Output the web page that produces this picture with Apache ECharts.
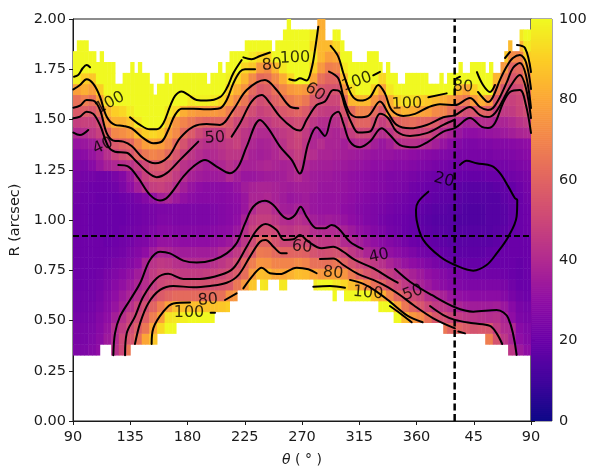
<!DOCTYPE html>
<html><head><meta charset="utf-8">
<style>html,body{margin:0;padding:0;background:#fff}#c{width:592px;height:466px}</style>
<script src="https://cdn.jsdelivr.net/npm/echarts@6/dist/echarts.min.js"></script>
</head><body><div id="c"></div>
<script>
const xTickLabels = ['90','135','180','225','270','315','360','45','90'];
const yTickLabels = ['0.00','0.25','0.50','0.75','1.00','1.25','1.50','1.75','2.00'];
const plasmaStops = ['#0d0887','#41049d','#6a00a8','#8f0da4','#b12a90','#cc4778','#e16462','#f2844b','#fca636','#fcce25','#f0f921'];
const thetaStart = 90, thetaMaskStep = 3, thetaStep = 6, rStart = 0.328, rStep = 0.054;
const crossTheta = 390, crossR = 0.92;
const _ = null;
const gap = n => Array(n).fill(_);

const topRow = [
28,29,29,29,28,28,27,28,27,27,
27,25,25,26,26,27,26,27,26,26,
25,24,25,25,26,25,26,26,26,26,
26,26,26,26,26,25,26,26,27,26,
27,28,28,28,28,29,29,29,29,29,
29,29,28,29,29,30,31,30,30,30,
30,30,30,30,31,31,29,29,30,30,
29,28,28,27,27,27,27,28,28,28,
27,26,27,26,26,25,25,26,26,26,
26,26,26,25,25,25,26,25,26,26,
26,27,26,26,27,27,27,27,26,27,
26,26,27,28,29,28,28,30,30,30];
const bottomRow = [
0,0,0,0,0,0,0,1,1,1,
0,0,0,0,0,1,1,1,1,1,
1,1,2,2,2,2,2,3,3,3,
3,3,3,3,3,3,3,4,4,4,
4,5,5,6,6,6,6,6,7,6,
6,7,7,7,6,6,7,7,7,7,
7,7,7,6,6,6,6,6,5,6,
6,5,5,5,5,5,5,5,5,5,
4,4,4,4,3,3,3,3,3,3,
3,3,3,3,3,3,3,2,2,2,
2,2,2,2,2,2,2,2,1,1,
1,1,1,1,0,0,0,0,0,0];

const row00 = [25,25,27,30,_,42,50,66,...gap(49),44,34,30];
const row01 = [24,24,26,29,34,40,50,55,64,80,88,...gap(43),68,54,44,38,30,27];
const row02 = [24,24,25,28,32,41,46,52,58,66,80,92,100,100,...gap(34),66,60,60,57,54,55,55,46,40,39,28,26];
const row03 = [23,23,24,27,30,36,42,48,52,58,68,78,95,96,98,100,100,100,100,...gap(23),100,85,76,72,64,56,53,49,46,44,43,42,41,42,38,30,25,24];
const row04 = [22,22,23,25,28,32,37,42,48,53,60,68,78,86,86,86,86,87,87,88,90,...gap(19),100,100,80,66,60,55,50,46,44,41,38,36,35,35,35,36,33,28,24,23];
const row05 = [22,22,22,24,27,30,34,38,42,47,52,57,60,62,62,62,62,62,63,64,74,76,...gap(12),100,100,100,100,100,88,82,70,61,57,51,48,42,40,37,33,31,30,29,29,29,29,27,24,22,21];
const row06 = [21,21,22,23,25,28,31,34,38,41,46,50,52,53,53,53,53,53,54,55,57,66,76,88,96,95,95,96,...gap(3),97,100,100,96,92,86,80,72,64,60,54,50,45,41,37,34,31,29,27,26,25,25,25,25,25,24,22,20,20];
const row07 = [21,21,21,22,24,26,28,31,35,40,46,49,49,47,46,46,46,47,48,50,53,57,63,77,86,85,80,80,83,86,85,80,76,78,78,75,67,60,55,52,49,46,43,40,37,34,31,29,27,25,24,23,22,22,22,22,21,20,19,20];
const row08 = [21,21,21,21,22,24,25,27,30,38,43,45,44,42,41,40,40,40,42,44,47,52,60,68,75,74,70,70,70,72,70,64,64,64,66,60,54,50,47,45,42,38,35,32,30,28,26,24,22,20,19,19,19,19,20,20,20,20,19,20];
const row09 = [21,21,21,21,21,22,23,25,27,30,35,39,38,36,35,35,35,35,36,39,41,45,51,57,67,66,62,60,60,60,59,54,52,53,54,50,45,42,38,36,33,31,29,27,25,23,22,20,19,18,17,17,17,17,18,19,20,20,20,20];
const row10 = [21,21,21,21,20,21,22,23,25,26,29,32,32,31,30,30,30,30,31,32,34,38,44,51,60,60,54,50,50,52,52,47,45,45,46,40,39,36,33,31,29,27,25,23,21,20,19,18,17,16,16,16,16,16,16,17,19,20,20,20];
const row11 = [21,21,20,20,20,20,21,22,23,24,26,28,28,27,27,27,27,27,28,29,30,33,42,48,52,52,50,45,44,46,45,41,40,40,40,37,34,31,29,27,25,23,22,20,19,18,17,16,16,15,15,15,15,15,15,16,17,19,20,21];
const row12 = [21,21,20,20,20,20,20,21,22,23,24,26,26,25,25,25,25,25,26,27,28,30,37,45,47,47,44,41,40,42,40,36,34,35,34,32,30,28,26,25,23,22,21,20,19,17,16,15,15,15,14,14,14,14,15,15,16,18,20,21];
const row13 = [21,21,20,20,20,20,20,21,22,23,24,25,25,25,25,25,25,25,26,27,28,29,33,40,44,44,40,36,35,37,36,33,32,32,32,30,29,27,26,25,24,23,22,21,20,18,17,16,16,15,15,14,14,14,15,15,16,18,20,21];
const row14 = [22,21,21,20,20,20,21,22,24,27,31,36,38,34,31,29,28,28,28,28,29,30,33,38,38,39,37,35,33,34,35,33,32,32,32,31,30,28,27,26,25,24,23,22,21,20,19,18,17,17,16,15,15,15,15,15,17,19,20,22];
const row15 = [23,22,21,21,21,22,25,30,36,42,47,48,46,41,36,32,30,29,29,29,30,32,35,37,38,38,37,36,35,36,36,35,33,33,33,32,31,30,29,28,27,26,25,24,22,21,20,19,18,17,17,16,16,16,16,17,18,19,21,23];
const row16 = [24,23,23,22,22,24,27,33,41,48,52,52,50,46,41,37,35,34,34,35,39,36,33,33,34,35,35,36,38,40,37,35,34,34,33,32,31,30,29,28,27,26,26,25,24,23,22,21,20,20,20,19,19,19,20,20,21,22,23,24];
const row17 = [26,25,28,33,37,39,41,43,47,51,56,57,54,49,43,41,38,36,37,39,42,40,37,37,38,39,38,37,38,44,39,37,36,36,35,34,33,32,31,30,30,29,28,28,27,26,25,24,23,22,22,22,22,22,22,23,23,24,25,26];
const row18 = [28,29,32,36,42,48,52,55,61,66,70,68,62,55,48,44,41,39,40,42,44,44,41,37,36,37,39,42,44,47,44,41,38,38,37,36,35,34,33,32,32,32,31,31,30,29,28,27,26,25,24,24,24,24,24,25,25,26,27,28];
const row19 = [32,33,35,40,47,56,59,61,70,78,80,78,72,62,54,48,44,42,42,44,46,48,43,39,37,38,40,43,47,49,44,39,41,38,38,36,39,41,40,36,33,36,41,42,42,41,39,36,32,29,27,25,25,26,26,27,27,28,29,30];
const row20 = [40,41,44,48,60,71,73,76,85,90,92,90,78,72,62,57,51,47,46,47,52,48,44,42,40,40,43,45,47,50,46,39,37,39,38,41,47,50,50,44,41,44,49,51,52,50,50,46,40,37,33,30,30,31,32,33,34,36,38,39];
const row21 = [47,48,48,52,75,83,83,87,96,100,100,100,88,75,70,66,62,60,60,60,56,50,49,46,44,45,48,49,50,52,50,44,41,41,42,48,56,60,60,53,47,51,60,62,63,61,60,57,50,46,40,36,38,41,41,38,38,40,43,45];
const row22 = [57,58,56,62,84,90,92,97,100,100,100,100,96,92,82,78,76,76,76,74,68,60,58,52,48,50,53,56,58,60,57,50,47,46,46,55,62,70,70,62,55,78,80,84,82,79,78,72,70,64,56,52,55,60,58,48,45,46,49,52];
const row23 = [64,68,64,78,95,100,100,100,100,100,100,100,100,100,100,96,98,98,96,92,80,72,66,57,52,54,59,63,67,70,66,56,52,50,50,62,84,85,85,75,67,82,92,95,94,90,88,85,82,78,70,66,76,82,76,56,48,48,50,56];
const row24 = [78,82,78,90,100,100,100,100,100,100,100,100,100,100,100,100,100,100,100,100,90,82,75,62,56,58,64,71,76,78,76,64,56,54,54,74,94,100,100,90,78,96,100,100,100,100,100,100,100,100,85,80,90,98,100,68,54,50,52,62];
const row25 = [98,90,88,100,100,100,100,100,100,100,100,100,100,100,100,100,100,100,100,100,98,92,84,72,62,64,72,82,92,100,100,80,64,60,60,85,100,100,100,100,92,100,100,100,100,100,100,100,100,100,100,100,100,100,100,84,66,55,58,72];
const row26 = [100,100,100,100,100,100,100,100,100,100,100,100,100,100,100,100,100,100,100,100,100,100,92,88,76,72,84,96,100,100,100,90,76,68,70,96,100,100,100,100,100,100,100,100,100,100,100,100,100,100,100,100,100,100,100,96,76,60,62,80];
const row27 = [100,100,100,100,100,100,100,100,100,100,100,100,100,100,100,100,100,100,100,100,100,100,100,96,92,90,100,100,100,100,100,96,84,78,80,100,100,100,100,100,100,100,100,100,100,100,100,100,100,100,100,100,100,100,100,100,88,72,70,90];
const row28 = [100,100,100,100,100,100,100,100,100,100,100,100,100,100,100,100,100,100,100,100,100,100,100,100,100,100,100,100,100,100,100,92,85,85,92,100,100,100,100,100,100,100,100,100,100,100,100,100,100,100,100,100,100,100,100,100,100,85,84,96];
const row29 = [100,100,100,100,100,100,100,100,100,100,100,100,100,100,100,100,100,100,100,100,100,100,100,100,100,100,100,100,100,100,100,96,84,90,100,100,100,100,100,100,100,100,100,100,100,100,100,100,100,100,100,100,100,100,100,100,100,100,96,100];
const row30 = [100,100,100,100,100,100,100,100,100,100,100,100,100,100,100,100,100,100,100,100,100,100,100,100,100,100,100,100,100,100,100,85,82,95,100,100,100,100,100,100,100,100,100,100,100,100,100,100,100,100,100,100,100,100,100,100,100,100,100,100];
const rows = [row00,row01,row02,row03,row04,row05,row06,row07,row08,row09,row10,row11,row12,row13,row14,row15,row16,row17,row18,row19,row20,row21,row22,row23,row24,row25,row26,row27,row28,row29,row30];

const contour20 = [[[369.3,1.141],[361.4,1.091],[359.6,1.05],[360.1,1.0],[365.3,.901],[378.4,.818],[390.2,.776],[404.6,.748],[415.1,.776],[423,.834],[432.2,.917],[438.7,1.017],[439.2,1.1],[437.4,1.108],[432.2,1.166],[425.6,1.233],[419,1.269],[407.3,1.282],[399.4,1.295],[394.2,1.274]]];
const contour40 = [
[[90.3,1.435],[95.5,1.423],[102,1.448]],
[[125.6,1.274],[133.5,1.266],[141.4,1.208],[150.5,1.125],[158.4,1.097],[164.9,1.117],[176.7,1.216],[184.6,1.266],[193.8,1.299],[202.9,1.266],[213.4,1.233],[220,1.266],[226.5,1.365],[237,1.498],[243.5,1.456],[252.7,1.365],[261.9,1.299],[268.2,1.231],[275,1.382],[281.5,1.461],[288,1.418],[293.3,1.514],[298.5,1.539],[302.5,1.481],[307.7,1.39],[315.6,1.362],[323.4,1.39],[332.6,1.456],[339.1,1.423],[347,1.373],[358.8,1.362],[369.3,1.39],[381.1,1.44],[390.3,1.458],[402,1.507],[411.4,1.463],[416.2,1.458],[421.7,1.483],[428,1.582],[433.5,1.637],[441.3,1.647],[446,1.572],[450,1.433]],
[[121.7,.327],[123,.436],[126.9,.519],[134.8,.602],[142.7,.685],[150.5,.801],[158.4,.842],[166.2,.834],[176.7,.798],[187.2,.788],[200.3,.801],[210.8,.834],[218.6,.884],[225.2,.983],[231.7,1.066],[240.9,1.096],[247.5,1.075],[254,1.025],[259.3,1.005],[264.5,1.025],[268.9,1.066],[273.6,1.017],[281.5,.959],[288,.959],[293.3,.975],[298.5,.959],[307.7,.892],[317.7,.856]],
[[343.1,.756],[354.9,.693],[371.9,.627],[390.2,.566],[404.6,.544],[423,.552],[432.2,.511],[438.7,.329]]];
const contour50 = [
[[90.3,1.506],[95.5,1.514],[100.7,1.539],[106,1.528],[111.2,1.473],[117.8,1.365],[123,1.34],[132.2,1.335],[138.7,1.299],[147.9,1.241],[155.8,1.213],[163.6,1.233],[174.1,1.299],[188.5,1.39]],
[[214.7,1.415],[221.3,1.481],[230.4,1.589],[238.3,1.622],[244.8,1.581],[252.7,1.514],[263.2,1.456],[268.4,1.445],[273.6,1.498],[281.5,1.572],[288,1.589],[294.6,1.647],[299.8,1.639],[303.8,1.564],[309,1.481],[314.3,1.435],[323.4,1.44],[331.3,1.528],[337.8,1.506],[344.4,1.44],[354.9,1.418],[368,1.432],[381.1,1.473],[390.2,1.5]],
[[130.9,.327],[132.2,.436],[138.7,.519],[145.3,.619],[155.8,.71],[164.9,.732],[176.7,.707],[189.8,.707],[205.5,.726],[216,.76],[226.5,.867],[234.4,.95],[241.4,.98],[250.1,.95],[255.8,.901],[263.2,.904],[268.4,.925],[275,.892],[285.4,.859],[294.6,.867],[302.5,.842],[311.6,.801],[326,.76],[337.8,.715],[345.2,.688]],
[[370.6,.572],[381.1,.527],[390.2,.503],[404.6,.486],[417.7,.473],[423,.436],[427.4,.383]]];
const contour60 = [
[[90.3,1.559],[95.5,1.569],[100.7,1.597],[106,1.594],[111.2,1.548],[116.5,1.432],[121.7,1.395],[129.6,1.39],[136.1,1.368],[145.3,1.307],[154.5,1.282],[165,1.315],[174.1,1.407],[184.6,1.465],[195.1,1.478],[205.5,1.473],[216,1.548],[226.5,1.647],[240.9,1.697],[250.1,1.647],[260.6,1.564],[267.1,1.556]],
[[291.2,1.738],[298.5,1.705],[302.5,1.614],[307.7,1.531],[314.3,1.511],[322.1,1.518],[331.3,1.589],[337.8,1.531],[344.4,1.473],[354.9,1.456],[368,1.473],[381.1,1.511],[390.3,1.522],[402,1.562],[409.9,1.522],[416.2,1.512],[421.7,1.532],[428,1.597],[433.5,1.662],[441.3,1.721],[446,1.657],[450,1.507]],
[[138.7,.383],[142.7,.486],[149.2,.586],[158.4,.652],[168.9,.672],[184.6,.665],[197.7,.672],[210.8,.688],[220,.726],[229.1,.818],[237,.892],[241.4,.901],[247.5,.867],[254,.834],[258,.834]],
[[284.1,.806],[294.6,.809],[302.5,.776],[314.3,.731],[326,.702],[337.8,.665],[347,.627],[357.5,.577],[373.2,.511],[390.2,.461]],
[[392.9,.445],[398.1,.436]]];
const contour80 = [
[[90.3,1.65],[95.5,1.672],[100.7,1.7],[106,1.677],[111.2,1.614],[116.5,1.514],[123,1.473],[129.6,1.468],[136.1,1.456],[145.3,1.407],[153.1,1.382],[159.7,1.39],[164.9,1.448],[170.2,1.523],[175.4,1.553],[184.6,1.553],[195.1,1.551],[205.5,1.556],[210.8,1.597],[216,1.68],[221.3,1.738],[225.2,1.75],[233.1,1.75]],
[[292.5,1.866],[298.5,1.813],[302.5,1.73],[309,1.622],[315.6,1.594],[323.4,1.611],[330,1.672],[335.2,1.63],[340.4,1.548],[349.6,1.518],[358.8,1.528],[369.3,1.561],[378.4,1.576],[390.3,1.572],[402,1.607],[409.9,1.562],[416.2,1.547],[420.1,1.557],[425.6,1.612],[431.1,1.687],[435.8,1.756],[441.3,1.781],[446,1.721],[450,1.557]],
[[408.3,1.637],[412.3,1.607],[416.2,1.587],[420.1,1.612],[425.6,1.697],[431.1,1.766],[435.8,1.806],[441.3,1.821],[446,1.786],[450,1.652]],
[[151.8,.383],[153.1,.461],[161,.544],[168.9,.585],[182,.589]],
[[209.5,.602],[218.6,.635]],
[[223.9,.66],[231.7,.726],[238.3,.763],[244.8,.735],[252.7,.731],[265.8,.763],[275,.755],[281.5,.735]],
[[307.7,.702],[318.2,.682],[328.7,.644],[339.1,.594],[352.2,.527],[364.8,.491]]];
const contour100 = [
[[90.8,1.713],[94.2,1.722],[97.6,1.755],[100.7,1.771],[103.4,1.76]],
[[134.8,1.511],[142.7,1.473],[150.5,1.451],[155.8,1.451],[161,1.481],[166.2,1.564],[170.2,1.617],[175.4,1.639],[180.7,1.622],[187.2,1.597],[195.1,1.594],[205.5,1.611],[210.8,1.655],[216,1.73],[222.6,1.796]],
[[223.9,1.809],[230.4,1.8],[237,1.816],[244.8,1.833]],
[[260,1.7],[264.5,1.694],[268.4,1.705],[273.6,1.694],[277.6,1.755],[280.2,1.846],[282.8,1.962]],
[[326,1.72],[331.3,1.737]],
[[369.3,1.611],[383.7,1.63]],
[[391.5,1.705],[394.2,1.713]],
[[407.5,1.736],[412.3,1.672],[417.8,1.637],[421.7,1.672]],
[[429.6,1.806],[433.5,1.836]],
[[439,1.871],[445.3,1.856],[450,1.736]],
[[278.9,.668],[292,.672],[303.8,.663]],
[[339.1,.572],[347,.536],[356.2,.491]],
[[198.2,.539],[201.6,.539]]];
const contourLabels = [
[119.1,1.582,'100',28],[113.6,1.368,'40',25],[201.6,1.408,'50',4],[246.4,1.771,'80',5],[264.5,1.806,'100',2],
[280.2,1.637,'60',-35],[313.2,1.687,'100',20],[352.5,1.577,'100',2],[396.5,1.662,'80',-3],[381.6,1.199,'20',-15],
[270,.866,'60',-5],[330.5,.821,'40',12],[357.2,.637,'50',20],[196.1,.602,'80',5],[294.4,.736,'80',-5],
[181.2,.537,'100',0],[321.9,.637,'100',-5]];

function plasma(v){
  const t = Math.max(0,Math.min(1,v/100))*(plasmaStops.length-1);
  const a = Math.min(Math.floor(t),plasmaStops.length-2), f = t-a;
  const h = s=>[1,3,5].map(k=>parseInt(s.substr(k,2),16));
  const A=h(plasmaStops[a]),B=h(plasmaStops[a+1]);
  return 'rgb('+A.map((x,k)=>Math.round(x+(B[k]-x)*f)).join(',')+')';
}

const cells = [];
topRow.forEach((top,i)=>{
  for(let n=bottomRow[i]; n<top; n++){
    const v = rows[n][Math.floor(i*thetaMaskStep/thetaStep)];
    if(v==null) continue;
    cells.push([thetaStart+thetaMaskStep*i, rStart+rStep*n, v]);
  }
});
const barLevels = []; for(let v=0;v<100;v+=0.5) barLevels.push([0,v,v+0.25]);

const FONT='DejaVu Sans', INK='#1a1a1a';
const axisLine={show:true,onZero:false,lineStyle:{color:INK,width:1}};
const axisTick={show:true,length:4,lineStyle:{color:INK,width:1}};
const axisLabel={color:INK,fontFamily:FONT,fontSize:14.5};

const series=[{
  type:'custom',coordinateSystem:'cartesian2d',xAxisIndex:0,yAxisIndex:0,clip:true,silent:true,z:1,
  data:cells,encode:{x:0,y:1},progressive:0,
  renderItem:(p,api)=>{
    const t=api.value(0),r=api.value(1),v=api.value(2);
    const a=api.coord([t,r+rStep]),b=api.coord([t+thetaMaskStep,r]);
    const clip=echarts.graphic.clipRectByRect({x:a[0],y:a[1],width:b[0]-a[0]+0.5,height:b[1]-a[1]+0.5},p.coordSys);
    return clip&&{type:'rect',shape:clip,style:{fill:plasma(v)}};
  }
},{
  type:'custom',coordinateSystem:'cartesian2d',xAxisIndex:1,yAxisIndex:1,clip:true,silent:true,
  data:barLevels,encode:{x:0,y:1},progressive:0,
  renderItem:(p,api)=>{
    const v=api.value(1);
    const a=api.coord([0,v+0.5]),b=api.coord([1,v]);
    return {type:'rect',shape:{x:a[0],y:a[1]-0.3,width:b[0]-a[0],height:b[1]-a[1]+0.6},style:{fill:plasma(v+0.25)}};
  }
}];
[contour20,contour40,contour50,contour60,contour80,contour100].forEach(group=>group.forEach(seg=>{
  series.push({type:'line',data:seg,smooth:0.35,showSymbol:false,symbol:'none',silent:true,clip:true,z:3,
    lineStyle:{color:'#000',width:2,cap:'round',join:'round'}});
}));
series.push({type:'line',data:[[crossTheta,0],[crossTheta,2]],showSymbol:false,symbol:'none',silent:true,z:4,
  lineStyle:{color:'#000',width:2.5,type:[7,3.5]}});
series.push({type:'line',data:[[90,crossR],[450,crossR]],showSymbol:false,symbol:'none',silent:true,z:4,
  lineStyle:{color:'#000',width:2,type:[6,3]}});
series.push({type:'scatter',silent:true,z:5,symbolSize:1,itemStyle:{color:'transparent'},
  data:contourLabels.map(l=>({value:[l[0],l[1]],label:{show:true,position:'inside',formatter:l[2],rotate:l[3],
    color:'#000',fontFamily:FONT,fontSize:16,align:'center',verticalAlign:'middle'}}))});

const chart=echarts.init(document.getElementById('c'),null,{renderer:'canvas'});
chart.setOption({
  animation:false,backgroundColor:'#fff',
  grid:[{left:73,top:19,width:458,height:402,outerBoundsMode:'none',containLabel:false,show:true,borderColor:INK,borderWidth:1,backgroundColor:'transparent'},
        {left:531,top:19,width:21,height:402,outerBoundsMode:'none',containLabel:false,show:true,borderColor:'#555',borderWidth:1,backgroundColor:'transparent'}],
  xAxis:[{type:'value',gridIndex:0,min:90,max:450,interval:45,splitLine:{show:false},axisLine,axisTick,
          axisLabel:{...axisLabel,margin:9,formatter:v=>xTickLabels[Math.round((v-90)/45)],showMinLabel:true,showMaxLabel:true},
          name:'{i|θ} ( ° )',nameLocation:'middle',nameGap:32,
          nameTextStyle:{color:INK,fontFamily:FONT,fontSize:14,rich:{i:{fontStyle:'italic',fontFamily:FONT,fontSize:14,color:INK}}}},
         {type:'value',gridIndex:1,min:0,max:1,show:false}],
  yAxis:[{type:'value',gridIndex:0,min:0,max:2,interval:0.25,splitLine:{show:false},axisLine,axisTick,
          axisLabel:{...axisLabel,margin:7,formatter:v=>yTickLabels[Math.round(v/0.25)]},
          name:'R (arcsec)',nameLocation:'middle',nameGap:50,
          nameTextStyle:{color:INK,fontFamily:FONT,fontSize:14.5}},
         {type:'value',gridIndex:1,min:0,max:100,interval:20,position:'right',splitLine:{show:false},
          axisLine:{show:true,lineStyle:{color:'#555'}},axisTick,axisLabel:{...axisLabel,margin:7}}],
  series
});
</script></body></html>
